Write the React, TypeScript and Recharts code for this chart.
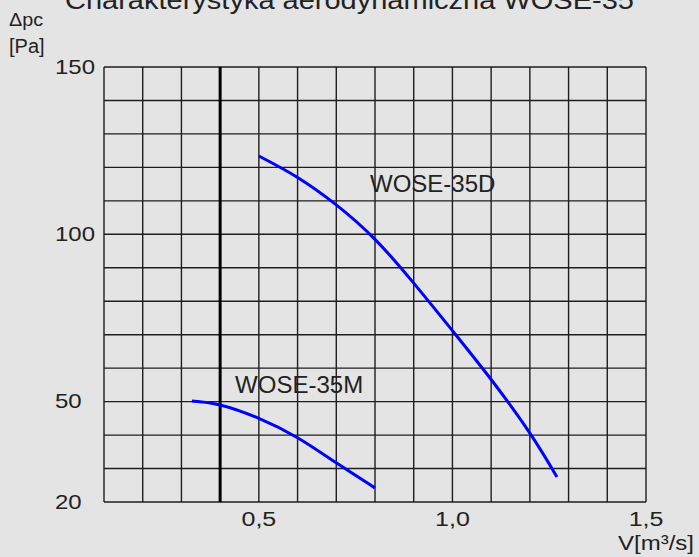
import React from 'react';
import {
  LineChart,
  Line,
  XAxis,
  YAxis,
  CartesianGrid,
  ReferenceLine,
  ReferenceDot
} from 'recharts';

// Air flow V [m3/s] vs pressure drop [Pa]
const WOSE_35D = [
  { v: 0.5, dp: 123.4 },
  { v: 0.6, dp: 117 },
  { v: 0.7, dp: 108.8 },
  { v: 0.8, dp: 98.5 },
  { v: 0.9, dp: 85.4 },
  { v: 1.0, dp: 71.2 },
  { v: 1.1, dp: 56.6 },
  { v: 1.2, dp: 40.6 },
  { v: 1.27, dp: 27.5 }
];

const WOSE_35M = [
  { v: 0.327, dp: 50.2 },
  { v: 0.4, dp: 49 },
  { v: 0.5, dp: 45 },
  { v: 0.6, dp: 39.2 },
  { v: 0.7, dp: 31.7 },
  { v: 0.8, dp: 24.2 }
];

const X_TICKS = [0.1, 0.2, 0.3, 0.4, 0.5, 0.6, 0.7, 0.8, 0.9, 1.0, 1.1, 1.2, 1.3, 1.4, 1.5];
const X_LABELS = [0.5, 1.0, 1.5];
const Y_TICKS = [20, 30, 40, 50, 60, 70, 80, 90, 100, 110, 120, 130, 140, 150];
const Y_LABELS = [20, 50, 100, 150];

const FONT = '"Liberation Sans", Arial, sans-serif';
const BG = '#e4e4e4';
const GRID = '#1e1e1e';
const BLUE = '#0000ff';

const XTick = ({ x, y, payload }: any) => {
  if (!X_LABELS.some((l) => Math.abs(l - payload.value) < 1e-6)) return null;
  const txt = payload.value.toFixed(1).replace('.', ',');
  return (
    <text
      transform={`translate(${x},${y + 9}) scale(1.25,1)`}
      textAnchor="middle"
      dominantBaseline="central"
      fontSize={20}
      fontFamily={FONT}
      fill="#222"
    >
      {txt}
    </text>
  );
};

const YTick = ({ y, payload }: any) => {
  if (!Y_LABELS.includes(payload.value)) return null;
  return (
    <text
      transform={`translate(55,${y}) scale(1.2,1)`}
      textAnchor="start"
      dominantBaseline="central"
      fontSize={20}
      fontFamily={FONT}
      fill="#222"
    >
      {payload.value}
    </text>
  );
};

const CurveLabel = ({ text }: { text: string }) => (props: any) => {
  const { cx, cy } = props;
  return (
    <text
      x={cx}
      y={cy}
      textAnchor="middle"
      dominantBaseline="central"
      fontSize={24}
      fontFamily={FONT}
      fill="#222"
    >
      {text}
    </text>
  );
};

const overlay = (extra: React.CSSProperties): React.CSSProperties => ({
  position: 'absolute',
  fontFamily: FONT,
  color: '#222',
  whiteSpace: 'nowrap',
  lineHeight: 1,
  transformOrigin: 'left top',
  ...extra
});

export default function App() {
  return (
    <div
      style={{
        position: 'absolute',
        left: 0,
        top: 0,
        width: 699,
        height: 557,
        background: BG,
        overflow: 'hidden'
      }}
    >
      {/* title is cut by the top edge in the original too */}
      <div style={overlay({ left: 65, top: -12, fontSize: 25, transform: 'scale(1.16,1)' })}>
        Charakterystyka aerodynamiczna WOSE-35
      </div>
      <div style={overlay({ left: 9, top: 11, fontSize: 18, transform: 'scale(1.1,1)' })}>
        Δpc
      </div>
      <div style={overlay({ left: 9, top: 36, fontSize: 20, transform: 'scale(1.0,1)' })}>
        [Pa]
      </div>
      <div style={overlay({ left: 618, top: 533, fontSize: 20, transform: 'scale(1.2,1)' })}>
        V[m³/s]
      </div>

      <LineChart
        width={699}
        height={557}
        margin={{ top: 67, right: 53, bottom: 25, left: 54 }}
        style={{ position: 'absolute', left: 0, top: 0 }}
      >
        <CartesianGrid stroke={GRID} strokeWidth={1.4} />
        <XAxis
          type="number"
          dataKey="v"
          domain={[0.1, 1.5]}
          ticks={X_TICKS}
          axisLine={false}
          tickLine={false}
          tick={<XTick />}
          height={30}
          allowDataOverflow
        />
        <YAxis
          type="number"
          dataKey="dp"
          domain={[20, 150]}
          ticks={Y_TICKS}
          axisLine={false}
          tickLine={false}
          tick={<YTick />}
          width={50}
          allowDataOverflow
        />
        <ReferenceLine x={0.4} stroke="#000" strokeWidth={3} />
        <Line
          data={WOSE_35D}
          dataKey="dp"
          type="natural"
          stroke={BLUE}
          strokeWidth={3}
          dot={false}
          isAnimationActive={false}
        />
        <Line
          data={WOSE_35M}
          dataKey="dp"
          type="natural"
          stroke={BLUE}
          strokeWidth={3}
          dot={false}
          isAnimationActive={false}
        />
        <ReferenceDot x={0.949} y={115.2} r={0} shape={CurveLabel({ text: 'WOSE-35D' })} />
        <ReferenceDot x={0.604} y={55.2} r={0} shape={CurveLabel({ text: 'WOSE-35M' })} />
      </LineChart>
    </div>
  );
}
